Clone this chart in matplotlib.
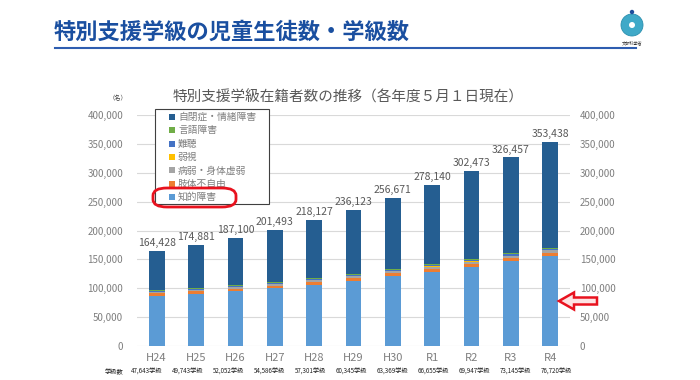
import numpy as np
import matplotlib
matplotlib.use("Agg")
import matplotlib.pyplot as plt
from matplotlib.patches import FancyBboxPatch, FancyArrow, Circle, Rectangle
from matplotlib.lines import Line2D

plt.rcParams['font.family'] = ['Noto Sans CJK JP', 'DejaVu Sans']

years = ["H24", "H25", "H26", "H27", "H28", "H29", "H30", "R1", "R2", "R3", "R4"]
classes = ["47,643学級", "49,743学級", "52,052学級", "54,586学級", "57,301学級", "60,345学級",
           "63,369学級", "66,655学級", "69,947学級", "73,145学級", "76,720学級"]
totals = [164428, 174881, 187100, 201493, 218127, 236123, 256671, 278140, 302473, 326457, 353438]

chiteki = [86960, 90403, 94821, 99757, 106365, 113032, 121208, 128912, 137094, 146947, 156010]
shitai = [4374, 4300, 4372, 4333, 4418, 4508, 4646, 4729, 4767, 4838, 4920]
byojaku = [1842, 2078, 2280, 2635, 2920, 3030, 3285, 3611, 3933, 4238, 4643]
jakushi = [403, 438, 447, 467, 475, 547, 547, 588, 610, 637, 642]
nancho = [1185, 1223, 1313, 1372, 1464, 1570, 1684, 1697, 1780, 1873, 1871]
gengo = [1528, 1570, 1605, 1622, 1684, 1720, 1797, 1773, 1769, 1727, 1729]
# 自閉症・情緒障害 = 合計 - 他の区分
jihei = [t - (a + b + c + d + e + f) for t, a, b, c, d, e, f in
         zip(totals, chiteki, shitai, byojaku, jakushi, nancho, gengo)]

series = [
    ("知的障害", chiteki, "#5B9BD5"),
    ("肢体不自由", shitai, "#ED7D31"),
    ("病弱・身体虚弱", byojaku, "#A5A5A5"),
    ("弱視", jakushi, "#FFC000"),
    ("難聴", nancho, "#4472C4"),
    ("言語障害", gengo, "#70AD47"),
    ("自閉症・情緒障害", jihei, "#255E91"),
]

W, H = 700, 380
def fx(px): return px / W
def fy(py): return 1 - py / H

fig = plt.figure(figsize=(7, 3.8), dpi=100)
ax = fig.add_axes([fx(137), fy(346), 433 / W, 231 / H])

x = np.arange(len(years))
bottom = np.zeros(len(years))
for name, vals, col in series:
    ax.bar(x, vals, 0.4, bottom=bottom, color=col, zorder=3)
    bottom += np.array(vals)

for xi, t in zip(x, totals):
    ax.text(xi, t + 5000, f"{t:,}", ha="center", va="bottom", fontsize=7.5, color="#595959")

fmt = matplotlib.ticker.FuncFormatter(lambda v, p: f"{int(v):,}")
ax.set_xlim(-0.5, len(years) - 0.5)
ax.set_ylim(0, 400000)
ax.set_yticks(np.arange(0, 400001, 50000))
ax.yaxis.set_major_formatter(fmt)
ax.grid(axis="y", color="#D9D9D9", lw=0.8, zorder=0)
for s in ax.spines.values():
    s.set_visible(False)
ax.tick_params(axis="y", length=0, labelsize=7, labelcolor="#7F7F7F", pad=10)
ax.tick_params(axis="x", length=0, labelsize=8, labelcolor="#7F7F7F", pad=5)
ax.set_xticks(x)
ax.set_xticklabels(years)

ax2 = ax.twinx()
ax2.set_ylim(0, 400000)
ax2.set_yticks(np.arange(0, 400001, 50000))
ax2.yaxis.set_major_formatter(fmt)
for s in ax2.spines.values():
    s.set_visible(False)
ax2.tick_params(axis="y", length=0, labelsize=7, labelcolor="#7F7F7F", pad=7)

# 学級数
fig.text(fx(105), fy(372), "学級数", fontsize=4.5, color="#222222", va="center")
cx = np.linspace(147, 556, len(classes))
for px, c in zip(cx, classes):
    fig.text(fx(px), fy(372), c, fontsize=4.5, color="#222222", ha="center", va="center")

fig.text(fx(118), fy(98), "（名）", fontsize=4.5, color="#404040", ha="center", va="center")
fig.text(fx(348), fy(97), "特別支援学級在籍者数の推移（各年度５月１日現在）",
         fontsize=10.5, color="#595959", ha="center", va="center")

# header
fig.text(fx(54), fy(32), "特別支援学級の児童生徒数・学級数", fontsize=16,
         fontweight="bold", color="#1A4FA0", va="center")
fig.add_artist(Line2D([fx(55), fx(636)], [fy(48)] * 2, color="#2E5DB0", lw=1.5))
fig.add_artist(Circle((6.32, (H - 25) / 100), 0.11, transform=fig.dpi_scale_trans,
                      facecolor="#3FA9C8", edgecolor="#2A8FAE", lw=0.6))
fig.add_artist(Circle((6.32, (H - 25) / 100), 0.03, transform=fig.dpi_scale_trans,
                      facecolor="white", edgecolor="none"))
fig.add_artist(Circle((6.32, (H - 12) / 100), 0.022, transform=fig.dpi_scale_trans,
                      facecolor="#1F4E9C", edgecolor="none"))
fig.text(fx(632), fy(43), "文部科学省", fontsize=3, color="#333333", ha="center", va="center")

# legend (drawn by hand to match the box)
fig.add_artist(Rectangle((fx(155), fy(204)), 114 / W, 95 / H, transform=fig.transFigure,
                         facecolor="white", edgecolor="#404040", lw=0.8, zorder=5))
ly = np.linspace(117, 197, len(series))
for py, (name, vals, col) in zip(ly, series[::-1]):
    fig.add_artist(Rectangle((fx(169), fy(py + 3)), 6 / W, 6 / H, transform=fig.transFigure,
                             facecolor=col, edgecolor="none", zorder=6))
    fig.text(fx(178), fy(py), name, fontsize=7, color="#7F7F7F", va="center", zorder=6)

fig.add_artist(FancyBboxPatch((fx(153), fy(207)), 83 / W, 19 / H,
                              boxstyle="round,pad=0,rounding_size=0.02",
                              transform=fig.transFigure, facecolor="none",
                              edgecolor="#E8121E", lw=2, zorder=7))

fig.add_artist(FancyArrow(5.97, (H - 301) / 100, -0.38, 0, width=0.07, head_width=0.17,
                          head_length=0.15, length_includes_head=True,
                          transform=fig.dpi_scale_trans, facecolor="#FDE3E3",
                          edgecolor="#E8121E", lw=1.8))

fig.savefig("out.png", dpi=100)
